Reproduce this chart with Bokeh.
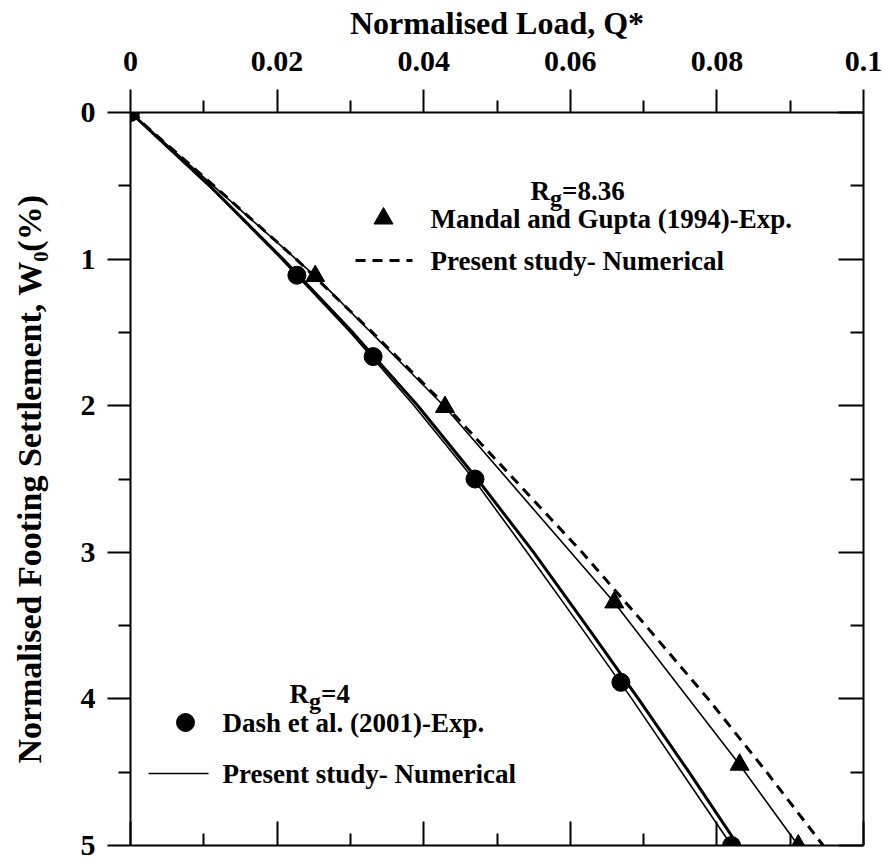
from bokeh.plotting import figure
from bokeh.models import Range1d, LinearAxis, FixedTicker, Label, Grid
from bokeh.embed import file_html
from bokeh.resources import INLINE

FONT = "Liberation Serif"

# ---------------- data ----------------
x_tick_vals = [0, 0.02, 0.04, 0.06, 0.08, 0.1]
x_tick_labels = ["0", "0.02", "0.04", "0.06", "0.08", "0.1"]
x_minor = [0.01, 0.03, 0.05, 0.07, 0.09]
y_tick_vals = [0, 1, 2, 3, 4, 5]
y_minor = [0.5, 1.5, 2.5, 3.5, 4.5]

# Dash et al. (2001) experimental, Rg = 4
dash_w = [0, 1.11, 1.665, 2.50, 3.887, 5.0]
dash_q = [0, 0.0227, 0.0331, 0.0470, 0.0669, 0.0820]

# Mandal and Gupta (1994) experimental, Rg = 8.36
mandal_w = [0, 1.116, 2.009, 3.342, 4.449, 5.0]
mandal_q = [0, 0.0252, 0.0429, 0.0660, 0.0831, 0.0911]

# smooth curves
w_grid = [0, 0.5, 1, 1.5, 2, 2.5, 3, 3.5, 4, 4.5, 5]
dash_trend_q = [0, 0.0108, 0.0208, 0.0303, 0.0392, 0.0473, 0.0550, 0.0622, 0.0693, 0.0762, 0.0829]
num_rg4_q = [0, 0.0107, 0.0206, 0.0300, 0.0387, 0.0468, 0.0541, 0.0613, 0.0684, 0.0752, 0.0820]
num_rg836_q = [0, 0.0114, 0.0226, 0.0330, 0.0430, 0.0523, 0.0616, 0.0703, 0.0788, 0.0868, 0.0945]

# ---------------- figure ----------------
p = figure(width=883, height=862, x_range=Range1d(0, 0.1), y_range=Range1d(5, 0),
           output_backend="svg", toolbar_location=None,
           x_axis_location=None, y_axis_location=None,
           min_border_left=130, min_border_right=20, min_border_top=112, min_border_bottom=17)
p.outline_line_color = None
p.background_fill_color = "white"
p.border_fill_color = "white"
for r in list(p.center):
    if isinstance(r, Grid):
        r.visible = False

xt = FixedTicker(ticks=x_tick_vals, minor_ticks=x_minor)
yt = FixedTicker(ticks=y_tick_vals, minor_ticks=y_minor)


def style(ax):
    ax.axis_line_width = 2
    ax.axis_line_color = "black"
    ax.major_tick_line_width = 2
    ax.minor_tick_line_width = 2
    ax.major_tick_line_color = "black"
    ax.minor_tick_line_color = "black"
    ax.major_label_text_font = FONT
    ax.major_label_text_font_style = "bold"
    ax.major_label_text_font_size = "30px"
    ax.major_label_text_color = "black"
    ax.axis_label_text_font = FONT
    ax.axis_label_text_font_style = "bold"
    ax.axis_label_text_font_size = "34px"
    ax.axis_label_text_color = "black"


top = LinearAxis(ticker=xt, axis_label="Normalised Load, Q*",
                 major_label_overrides={v: s for v, s in zip(x_tick_vals, x_tick_labels)})
style(top)
top.axis_label_text_font_size = "32px"
top.major_tick_out = 23
top.major_tick_in = 0
top.minor_tick_out = 12
top.minor_tick_in = 0
top.major_label_standoff = 19
top.axis_label_standoff = 8
p.add_layout(top, "above")

left = LinearAxis(ticker=yt, axis_label="Normalised Footing Settlement, W\u2080(%)")
style(left)
left.major_tick_out = 23
left.major_tick_in = 0
left.minor_tick_out = 12
left.minor_tick_in = 0
left.major_label_standoff = 12
left.axis_label_standoff = 30
p.add_layout(left, "left")

bottom = LinearAxis(ticker=xt, major_label_overrides={v: "" for v in x_tick_vals})
style(bottom)
bottom.major_tick_in = 24
bottom.major_tick_out = 0
bottom.minor_tick_in = 12
bottom.minor_tick_out = 0
bottom.major_label_text_font_size = "1px"
bottom.major_label_standoff = 0
p.add_layout(bottom, "below")

right = LinearAxis(ticker=yt, major_label_overrides={v: "" for v in y_tick_vals})
style(right)
right.major_tick_in = 25
right.major_tick_out = 0
right.minor_tick_in = 13
right.minor_tick_out = 0
right.major_label_text_font_size = "1px"
right.major_label_standoff = 0
p.add_layout(right, "right")

# ---------------- curves ----------------
p.line(num_rg4_q, w_grid, line_width=1.6, line_color="black")
p.line(dash_trend_q, w_grid, line_width=3, line_color="black")
p.line(mandal_q, mandal_w, line_width=1.6, line_color="black")
p.line(num_rg836_q, w_grid, line_width=3, line_color="black", line_dash="10 7")
p.scatter(dash_q, dash_w, marker="circle", size=18, fill_color="black", line_color="black")
p.scatter(mandal_q, mandal_w, marker="triangle", size=19, fill_color="black", line_color="black")


# ---------------- legends (pixel positions -> data) ----------------
def qx(px):
    return (px - 130) / 733 * 0.1


def wy(py):
    return (py - 112) / 733 * 5


def lab(px, py, text, size="27px", baseline="middle", align="left"):
    p.add_layout(Label(x=qx(px), y=wy(py), text=text, text_font=FONT, text_font_style="bold",
                       text_font_size=size, text_color="black", text_baseline=baseline,
                       text_align=align))


# upper legend (Rg = 8.36)
lab(530, 190, "R", "27px", "alphabetic")
lab(549.5, 197, "g", "24px", "alphabetic")
lab(561.5, 190, "=8.36", "27px", "alphabetic")
p.scatter([qx(383)], [wy(218)], marker="triangle", size=19, fill_color="black", line_color="black")
lab(430, 218, "Mandal and Gupta (1994)-Exp.")
p.line([qx(355), qx(412)], [wy(260), wy(260)], line_width=3, line_color="black", line_dash="10 7")
lab(430, 260, "Present study- Numerical")

# lower legend (Rg = 4)
lab(289, 693, "R", "27px", "alphabetic")
lab(308.5, 700, "g", "24px", "alphabetic")
lab(320.5, 693, "=4", "27px", "alphabetic")
p.scatter([qx(185)], [wy(722)], marker="circle", size=18, fill_color="black", line_color="black")
lab(222, 722, "Dash et al. (2001)-Exp.")
p.line([qx(148), qx(208)], [wy(773), wy(773)], line_width=1.6, line_color="black")
lab(222, 773, "Present study- Numerical")

open("out.html", "w").write(file_html(p, INLINE))
